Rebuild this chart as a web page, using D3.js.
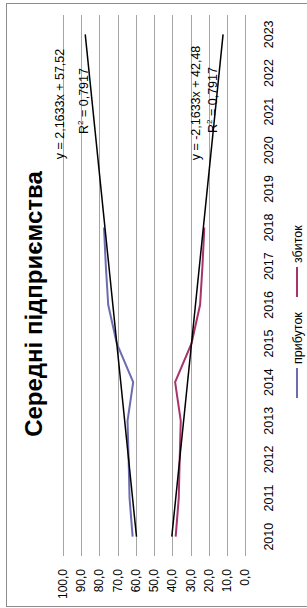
<!DOCTYPE html>
<html>
<head>
<meta charset="utf-8">
<script src="https://cdn.jsdelivr.net/npm/d3@7"></script>
<style>
    body { margin: 0; background: #fff; }
    text { font-family: "Liberation Sans", Arial, sans-serif; fill: #000; }
</style>
</head>
<body>
<div id="chart"></div>
<script>
// Chart data
const years = ["2010", "2011", "2012", "2013", "2014", "2015", "2016", "2017", "2018",
    "2019", "2020", "2021", "2022", "2023"];
const profit = [61.8, 63.5, 64.0, 64.6, 61.5, 70.5, 75.2, 76.5, 77.5];
const loss = [38.2, 36.5, 36.0, 35.4, 38.5, 29.5, 24.8, 23.5, 22.5];
const yTicks = [0, 10, 20, 30, 40, 50, 60, 70, 80, 90, 100];
const trendSlope = [2.1633, -2.1633];
const trendIntercept = [57.52, 42.48];
const trendLabels = [["y = 2,1633x + 57,52", "0,7917"], ["y = -2,1633x + 42,48", "0,7917"]];
const seriesNames = ["прибуток", "збиток"];
const seriesColors = ["#6c6cb0", "#a5336c"];

// The chart is drawn in a 608x307 frame and then turned on its side
const W = 608, H = 307;
const plot = { left: 52, right: 593, top: 63, bottom: 245.3 };

const svg = d3.select("#chart")
    .append("svg")
    .attr("width", H)
    .attr("height", W);

const g = svg.append("g")
    .attr("transform", `translate(0,${W}) rotate(-90)`);

// Outer frame
g.append("rect")
    .attr("x", 1.5).attr("y", 6.5)
    .attr("width", 603).attr("height", 304)
    .attr("fill", "#fff")
    .attr("stroke", "#8c8c8c")
    .attr("stroke-width", 1);

// Scales
const x = d3.scaleBand().domain(years).range([plot.left, plot.right]);
const xc = i => x(years[i]) + x.bandwidth() / 2;
const y = d3.scaleLinear().domain([0, 100]).range([plot.bottom, plot.top]);

// Gridlines
g.append("g")
    .selectAll("line")
    .data(yTicks)
    .enter()
    .append("line")
    .attr("x1", plot.left).attr("x2", plot.right)
    .attr("y1", d => Math.round(y(d)) + 0.5)
    .attr("y2", d => Math.round(y(d)) + 0.5)
    .attr("stroke", "#a6a6a6")
    .attr("stroke-width", 1);

// Value axis labels
g.append("g")
    .selectAll("text")
    .data(yTicks)
    .enter()
    .append("text")
    .attr("x", 39)
    .attr("y", d => y(d) + 4)
    .attr("text-anchor", "end")
    .attr("font-size", 12)
    .text(d => d.toFixed(1).replace(".", ","));

// Category axis labels
g.append("g")
    .selectAll("text")
    .data(years)
    .enter()
    .append("text")
    .attr("x", d => x(d) + x.bandwidth() / 2)
    .attr("y", 272.5)
    .attr("text-anchor", "middle")
    .attr("font-size", 12.5)
    .text(d => d);

// Series lines
const line = d3.line()
    .x((d, i) => xc(i))
    .y(d => y(d));

[profit, loss].forEach((s, k) => {
    g.append("path")
        .datum(s)
        .attr("d", line)
        .attr("fill", "none")
        .attr("stroke", seriesColors[k])
        .attr("stroke-width", 2);
});

// Linear trendlines, forecast to the last category (x = 1 is the first year)
trendSlope.forEach((a, k) => {
    const t0 = 1, t1 = years.length;
    g.append("line")
        .attr("x1", xc(t0 - 1)).attr("y1", y(a * t0 + trendIntercept[k]))
        .attr("x2", xc(t1 - 1)).attr("y2", y(a * t1 + trendIntercept[k]))
        .attr("stroke", "#000")
        .attr("stroke-width", 1.5);
});

// Trendline equations
const eqPos = [{ u: 504, v: 64, r: 87.5 }, { u: 505, v: 200, r: 216.5 }];
trendLabels.forEach((t, k) => {
    g.append("text")
        .attr("x", eqPos[k].u)
        .attr("y", eqPos[k].v)
        .attr("text-anchor", "middle")
        .attr("font-size", 12.5)
        .text(t[0]);
    const r2 = g.append("text")
        .attr("x", eqPos[k].u + 3)
        .attr("y", eqPos[k].r)
        .attr("text-anchor", "middle")
        .attr("font-size", 12.5);
    r2.append("tspan").text("R");
    r2.append("tspan").attr("dy", -5).attr("font-size", 8).text("2");
    r2.append("tspan").attr("dy", 5).text(" = " + t[1]);
});

// Title
g.append("text")
    .attr("x", W / 2)
    .attr("y", 42)
    .attr("text-anchor", "middle")
    .attr("font-size", 24)
    .attr("font-weight", "bold")
    .text("Середні підприємства");

// Legend
const legendX = [210, 311];
seriesNames.forEach((n, k) => {
    g.append("line")
        .attr("x1", legendX[k]).attr("x2", legendX[k] + 30)
        .attr("y1", 297).attr("y2", 297)
        .attr("stroke", seriesColors[k])
        .attr("stroke-width", 2);
    g.append("text")
        .attr("x", legendX[k] + 34)
        .attr("y", 301.5)
        .attr("font-size", 12.5)
        .text(n);
});
</script>
</body>
</html>
